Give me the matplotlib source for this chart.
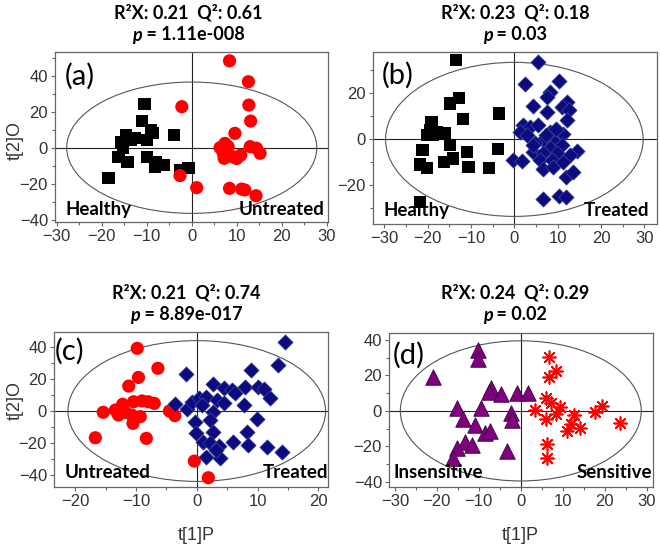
import matplotlib
matplotlib.use("Agg")
import matplotlib.pyplot as plt
from matplotlib.patches import Ellipse
from matplotlib.offsetbox import TextArea, HPacker, AnnotationBbox
from matplotlib.ticker import MultipleLocator

# ---------------- data ----------------
a_healthy_x = [-10.5, -11.1, -8.7, -3.9, -14.6, -12.6, -10.0, -15.6, -15.2, -16.3, -14.3, -9.9, -7.9, -6.3, -8.1, -2.6, -0.7, -18.5, -9.0, -13.5]
a_healthy_y = [24.3, 14.8, 8.0, 7.0, 7.0, 5.2, 4.3, 3.3, -0.3, -5.0, -7.8, -5.0, -7.8, -9.6, -10.4, -12.4, -11.1, -17.0, 9.5, 4.5]
a_untreated_x = [8.4, 12.6, 12.7, 13.1, -2.2, 9.6, 7.4, 6.3, 8.1, 7.0, 7.2, 9.1, 10.9, 13.0, 14.4, 15.2, -2.6, 1.1, 8.4, 11.1, 11.8, 14.3, 10.0]
a_untreated_y = [48.3, 36.7, 23.7, 14.8, 22.8, 8.0, 2.4, 0.0, 0.6, -3.1, -5.9, -5.0, -4.1, 0.6, -0.3, -3.1, -15.5, -22.2, -22.6, -23.0, -23.5, -26.7, -6.0]

b_healthy_x = [-13.5, -12.7, -14.8, -11.8, -3.5, -19.1, -19.5, -17.9, -16.0, -20.2, -14.8, -21.2, -11.0, -3.7, -14.1, -16.2, -21.8, -20.1, -10.6, -5.8, -21.8, -18.7]
b_healthy_y = [34.5, 18.1, 15.6, 8.8, 11.3, 7.7, 4.0, 3.3, 2.6, 1.9, -2.5, -4.6, -5.4, -4.2, -8.3, -9.7, -10.9, -12.3, -11.9, -12.6, -27.1, 1.9]
b_treated_x = [5.4, 2.5, 10.4, 8.2, 7.5, 4.4, 12.1, 10.9, 12.7, 7.5, 12.1, 2.1, 3.6, 5.5, 1.3, 2.9, 8.2, 11.3, 6.7, 9.4, 4.8, 8.2, 10.9, 4.4, 6.7, 9.8, 14.4, 12.9, -0.2, 1.7, 5.9, 8.6, 6.7, 9.0, 11.9, 13.6, 11.3, 6.7, 10.2, 11.9, 4.2, 7.2, 9.5]
b_treated_y = [33.7, 23.9, 25.3, 20.7, 18.5, 14.6, 16.1, 14.2, 12.7, 12.0, 8.4, 6.2, 5.5, 6.2, 3.0, 1.9, 3.3, 2.2, -0.3, -1.0, -1.7, -3.9, -2.5, -5.4, -6.1, -6.1, -5.1, -6.8, -9.0, -9.4, -9.0, -9.0, -12.9, -11.9, -16.2, -14.1, -9.7, -26.0, -24.5, -24.9, -2.3, 2.0, 4.6]

c_untreated_x = [-9.8, -6.4, -9.6, -11.2, -12.2, -10.4, -9.0, -8.0, -7.0, -15.4, -13.4, -12.9, -11.8, -10.7, -9.3, -10.5, -16.7, -8.3, -4.5, -3.6, -0.4, 1.9]
c_untreated_y = [39.2, 26.7, 21.0, 15.6, 4.2, 5.8, 6.3, 5.8, 4.8, -0.8, 0.6, -2.5, -0.8, -2.5, -3.5, -7.7, -16.7, -17.1, 0.0, -2.9, -31.3, -41.7]
c_treated_x = [14.5, 13.4, -1.8, 8.9, 2.6, 4.4, 5.8, 7.9, 10.0, 11.0, 12.1, 6.3, -3.6, -1.6, -0.8, 0.3, 1.6, 0.8, 3.3, 4.4, 7.7, 2.6, 2.1, -0.3, 9.9, -0.1, 2.6, 8.2, 1.1, 2.2, 3.6, 6.0, 8.5, 11.5, 14.0, 1.6, 3.9, 3.1]
c_treated_y = [42.9, 28.7, 22.9, 25.6, 16.7, 14.2, 13.1, 15.2, 15.2, 13.7, 8.3, 11.0, 4.2, 1.3, 5.4, 8.3, 9.0, 3.8, 6.9, 4.8, 3.8, -0.8, -5.6, -7.1, -5.2, -13.9, -13.3, -12.9, -19.2, -20.2, -21.7, -19.6, -21.3, -22.3, -25.4, -28.5, -29.6, -24.5]

d_insens_x = [-10.2, -10.2, -21.0, -7.1, -7.6, -4.6, -1.0, 1.7, -15.1, -9.4, -13.7, -2.4, -2.2, -11.0, -8.6, -7.4, -13.3, -11.6, -15.3, -3.4, -16.1]
d_insens_y = [34.3, 29.2, 19.3, 12.7, 10.8, 9.4, 9.9, 9.9, 1.9, 1.5, -4.5, -1.3, -5.1, -7.9, -12.5, -11.6, -17.6, -19.5, -21.0, -22.5, -26.6]
d_sens_x = [6.7, 8.5, 6.7, 6.1, 7.1, 3.3, 9.4, 8.3, 6.1, 12.6, 11.9, 10.9, 14.0, 17.8, 19.4, 23.6, 6.3, 6.3]
d_sens_y = [30.2, 22.5, 18.9, 7.5, 4.3, 0.6, 2.4, -1.9, -4.7, -2.2, -7.5, -11.6, -9.7, -0.4, 3.0, -6.9, -18.5, -26.6]

# Hotelling ellipse semi-axes (t[1]P, t[2]O)
ellipse_a = (27.8, 36.5)
ellipse_b = (29.7, 33.5)
ellipse_c = (21.2, 44.0)
ellipse_d = (28.7, 39.5)

titles_r2q2 = ["R²X: 0.21  Q²: 0.61", "R²X: 0.23  Q²: 0.18", "R²X: 0.21  Q²: 0.74", "R²X: 0.24  Q²: 0.29"]
titles_p = [" = 1.11e-008", " = 0.03", " = 8.89e-017", " = 0.02"]
panel_letters = ["(a)", "(b)", "(c)", "(d)"]
group_labels = [("Healthy", "Untreated"), ("Healthy", "Treated"), ("Untreated", "Treated"), ("Insensitive", "Sensitive")]

# ---------------- layout ----------------
W, H = 660, 549
fig = plt.figure(figsize=(W / 100, H / 100), dpi=100)

def px_axes(l, r, t, b):
    return fig.add_axes([l / W, 1 - b / H, (r - l) / W, (b - t) / H])

ax_a = px_axes(55, 328, 52, 222)
ax_b = px_axes(373, 657, 52, 224)
ax_c = px_axes(54, 328, 332, 487)
ax_d = px_axes(389, 653, 333, 487)
axes = [ax_a, ax_b, ax_c, ax_d]

lims = [((-30.4, 30.3), (-41.3, 53.2)),
        ((-32.6, 32.9), (-36.8, 38.0)),
        ((-23.5, 21.6), (-47.5, 49.4)),
        ((-31.4, 31.5), (-42.9, 43.9))]
ellipses = [ellipse_a, ellipse_b, ellipse_c, ellipse_d]

TICK_FONT = "Liberation Sans"
TITLE_FONT = "Lato"
tick_color = "#333333"

for ax, (xl, yl), ell in zip(axes, lims, ellipses):
    ax.set_xlim(*xl)
    ax.set_ylim(*yl)
    ax.axhline(0, color="#222222", lw=0.8, zorder=1)
    ax.axvline(0, color="#222222", lw=0.8, zorder=1)
    e = Ellipse((0, 0), 2 * ell[0], 2 * ell[1], fill=False, ec="#555555", lw=0.8, zorder=1)
    ax.add_patch(e)
    for s in ax.spines.values():
        s.set_color("#666666")
        s.set_linewidth(0.9)
    ax.xaxis.set_major_locator(MultipleLocator(10))
    ax.xaxis.set_minor_locator(MultipleLocator(5))
    ax.yaxis.set_major_locator(MultipleLocator(20))
    ax.yaxis.set_minor_locator(MultipleLocator(10))
    ax.tick_params(which="both", direction="out", color="#666666", width=0.8,
                   labelsize=12, labelcolor=tick_color, pad=2)
    ax.tick_params(which="major", length=3)
    ax.tick_params(which="minor", length=2)
    for lab in ax.get_xticklabels() + ax.get_yticklabels():
        lab.set_fontfamily(TICK_FONT)

# ---------------- points ----------------
sq_kw = dict(marker="s", s=78, color="black", edgecolors="none", zorder=3)
ci_kw = dict(marker="o", s=90, color="#FF0000", edgecolors="none", zorder=3)
di_kw = dict(marker="D", s=62, color="#0c0c80", edgecolors="#4a5aa0", linewidths=0.4, zorder=3)
tr_kw = dict(marker="^", s=125, color="#800080", edgecolors="#3a003a", linewidths=0.6, zorder=3)
as_kw = dict(marker=(8, 2, 0), s=85, color="#FF0000", linewidths=1.2, zorder=3)

ax_a.scatter(a_healthy_x, a_healthy_y, **sq_kw)
ax_a.scatter(a_untreated_x, a_untreated_y, **ci_kw)
ax_b.scatter(b_healthy_x, b_healthy_y, **sq_kw)
ax_b.scatter(b_treated_x, b_treated_y, **di_kw)
ax_c.scatter(c_untreated_x, c_untreated_y, **ci_kw)
ax_c.scatter(c_treated_x, c_treated_y, **di_kw)
ax_d.scatter(d_insens_x, d_insens_y, **tr_kw)
ax_d.scatter(d_sens_x, d_sens_y, **as_kw)

# ---------------- in-panel texts ----------------
letter_pos = [(0.037, 0.855), (0.03, 0.866), (0.004, 0.873), (0.016, 0.857)]
group_pos = [((0.037, 0.076), (0.989, 0.076)),
             ((0.036, 0.081), (0.972, 0.081)),
             ((0.04, 0.095), (1.0, 0.095)),
             ((0.016, 0.095), (0.995, 0.095))]
for ax, letter, lp, (gl, gr), (pl, pr) in zip(axes, panel_letters, letter_pos, group_labels, group_pos):
    ax.text(lp[0], lp[1], letter, transform=ax.transAxes, ha="left", va="center",
            fontsize=21, family=TITLE_FONT, color="black", zorder=5)
    ax.text(pl[0], pl[1], gl, transform=ax.transAxes, ha="left", va="center",
            fontsize=13.5, family=TITLE_FONT, fontweight="bold", color="black", zorder=5)
    ax.text(pr[0], pr[1], gr, transform=ax.transAxes, ha="right", va="center",
            fontsize=13.5, family=TITLE_FONT, fontweight="bold", color="black", zorder=5)

# ---------------- titles ----------------
title_centers = [(188, 13, 35), (515, 13, 35), (186, 293, 315), (515, 293, 315)]
for (cx, y1, y2), t1, tp in zip(title_centers, titles_r2q2, titles_p):
    fig.text(cx / W, 1 - y1 / H, t1, ha="center", va="center", fontsize=13,
             family=TITLE_FONT, fontweight="bold", color="black")
    pk = HPacker(children=[
        TextArea("p", textprops=dict(fontsize=13, family=TITLE_FONT, fontweight="bold", fontstyle="italic")),
        TextArea(tp, textprops=dict(fontsize=13, family=TITLE_FONT, fontweight="bold")),
    ], align="baseline", pad=0, sep=0)
    ab = AnnotationBbox(pk, (cx / W, 1 - y2 / H), xycoords="figure fraction",
                        frameon=False, box_alignment=(0.5, 0.5), pad=0)
    fig.add_artist(ab)

# ---------------- axis labels ----------------
lab_kw = dict(fontsize=13, family=TICK_FONT, color=tick_color)
fig.text(15 / W, 1 - 140 / H, "t[2]O", rotation=90, ha="center", va="center", **lab_kw)
fig.text(15 / W, 1 - 400 / H, "t[2]O", rotation=90, ha="center", va="center", **lab_kw)
fig.text(196 / W, 1 - 535 / H, "t[1]P", ha="center", va="center", **lab_kw)
fig.text(520 / W, 1 - 535 / H, "t[1]P", ha="center", va="center", **lab_kw)

fig.savefig("out.png", dpi=100)
